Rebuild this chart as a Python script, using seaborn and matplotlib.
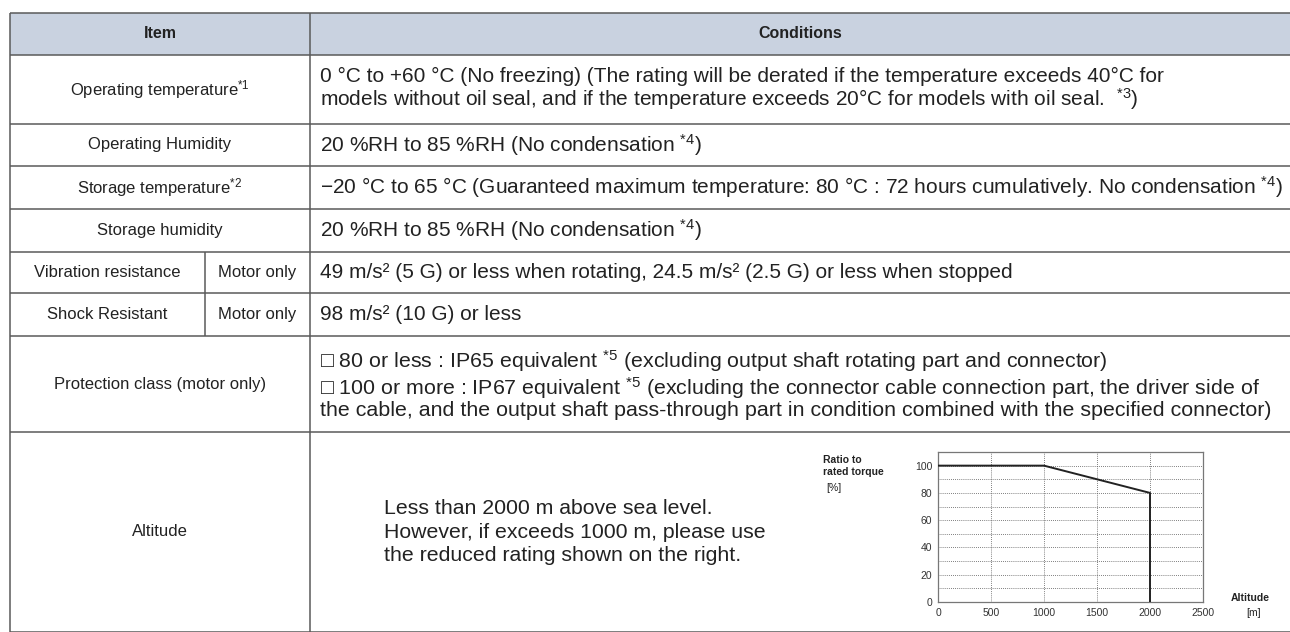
import matplotlib
matplotlib.use("Agg")
import matplotlib.pyplot as plt
import seaborn as sns

# --- table contents ---
items = ["Operating temperature$^{*1}$", "Operating Humidity", "Storage temperature$^{*2}$",
         "Storage humidity", "Vibration resistance", "Shock Resistant",
         "Protection class (motor only)", "Altitude"]
sub_items = ["", "", "", "", "Motor only", "Motor only", "", ""]
conditions = [
    "0 °C to +60 °C (No freezing) (The rating will be derated if the temperature exceeds 40°C for\n"
    "models without oil seal, and if the temperature exceeds 20°C for models with oil seal.  $^{*3}$)",
    "20 %RH to 85 %RH (No condensation $^{*4}$)",
    "−20 °C to 65 °C (Guaranteed maximum temperature: 80 °C : 72 hours cumulatively. No condensation $^{*4}$)",
    "20 %RH to 85 %RH (No condensation $^{*4}$)",
    "49 m/s² (5 G) or less when rotating, 24.5 m/s² (2.5 G) or less when stopped",
    "98 m/s² (10 G) or less",
    "□ 80 or less : IP65 equivalent $^{*5}$ (excluding output shaft rotating part and connector)\n"
    "□ 100 or more : IP67 equivalent $^{*5}$ (excluding the connector cable connection part, the driver side of\n"
    "the cable, and the output shaft pass-through part in condition combined with the specified connector)",
    "Less than 2000 m above sea level.\nHowever, if exceeds 1000 m, please use\nthe reduced rating shown on the right.",
]

# --- derating chart data ---
altitude_m = [0, 1000, 2000, 2000]
torque_ratio = [100, 100, 80, 0]
x_ticks = [0, 500, 1000, 1500, 2000, 2500]
y_ticks = [0, 20, 40, 60, 80, 100]

sns.set_theme(style="white")
plt.rcParams['font.family'] = ['Liberation Sans', 'DejaVu Sans']
plt.rcParams['mathtext.fontset'] = 'custom'
plt.rcParams['mathtext.rm'] = 'Liberation Sans'
plt.rcParams['mathtext.it'] = 'Liberation Sans:italic'
plt.rcParams['mathtext.bf'] = 'Liberation Sans:bold'

W, H = 1290, 632
fig = plt.figure(figsize=(W / 100, H / 100), dpi=100)
ax = fig.add_axes([0, 0, 1, 1])
ax.set_xlim(0, W)
ax.set_ylim(H, 0)
ax.axis('off')

row_edges = [13, 55, 124, 166, 209, 252, 293, 336, 432, 632]
left, col1, col_sub, right = 10, 310, 205, 1290
line_c = '#5a5a5a'
txt_c = '#222222'
fs = 12

# header
ax.fill_between([left, right], row_edges[0], row_edges[1], color='#c9d2e0', lw=0)
ax.text((left + col1) / 2, (row_edges[0] + row_edges[1]) / 2, "Item", ha='center', va='center',
        fontsize=11.5, fontweight='bold', color=txt_c)
ax.text((col1 + right) / 2, (row_edges[0] + row_edges[1]) / 2, "Conditions", ha='center', va='center',
        fontsize=11.5, fontweight='bold', color=txt_c)

# grid lines
ax.hlines(row_edges, left, right, color=line_c, lw=1.1)
ax.vlines([left, col1], row_edges[0], row_edges[-1], color=line_c, lw=1.1)
ax.vlines(col_sub, row_edges[5], row_edges[7], color=line_c, lw=1.1)

cond_sizes = [15, 15, 15, 15, 15, 15, 15.4, 15.3]
cond_spacing = [1.0, 1, 1, 1, 1, 1, 1.05, 1.3]
cond_x = [320] * 7 + [384]
for i, (it, sub, cond) in enumerate(zip(items, sub_items, conditions)):
    yc = (row_edges[i + 1] + row_edges[i + 2]) / 2
    if sub:
        ax.text((left + col_sub) / 2, yc, it, ha='center', va='center', fontsize=fs, color=txt_c)
        ax.text((col_sub + col1) / 2, yc, sub, ha='center', va='center', fontsize=fs, color=txt_c)
    else:
        ax.text((left + col1) / 2, yc, it, ha='center', va='center', fontsize=fs, color=txt_c)
    ax.text(cond_x[i], yc, cond, ha='left', va='center', fontsize=cond_sizes[i],
            color=txt_c, linespacing=cond_spacing[i])

# derating chart
cx0, cx1, cy0, cy1 = 938, 1203, 452, 602
ax_c = fig.add_axes([cx0 / W, (H - cy1) / H, (cx1 - cx0) / W, (cy1 - cy0) / H])
sns.lineplot(x=altitude_m, y=torque_ratio, estimator=None, sort=False, color='#222222',
             lw=1.4, ax=ax_c, zorder=3)
ax_c.set_xlim(0, 2500)
ax_c.set_ylim(0, 110)
ax_c.set_xticks(x_ticks)
ax_c.set_yticks(y_ticks)
ax_c.set_yticks(range(10, 110, 20), minor=True)
ax_c.grid(which='both', linestyle=(0, (1, 1.5)), color='#555555', lw=0.6)
ax_c.tick_params(which='both', length=0, labelsize=7.5, colors='#333333', pad=4)
for s in ax_c.spines.values():
    s.set_color('#777777')
    s.set_linewidth(0.9)
ax_c.set_xlabel('')
ax_c.set_ylabel('')

ax.text(823, 466, "Ratio to\nrated torque", ha='left', va='center', fontsize=7.5,
        fontweight='bold', color=txt_c, linespacing=1.25)
ax.text(826, 488, "[%]", ha='left', va='center', fontsize=7.5, color=txt_c)
ax.text(1250, 598, "Altitude", ha='center', va='center', fontsize=7.5, fontweight='bold', color=txt_c)
ax.text(1254, 613, "[m]", ha='center', va='center', fontsize=7.5, color=txt_c)

fig.savefig('out.png', dpi=100)
